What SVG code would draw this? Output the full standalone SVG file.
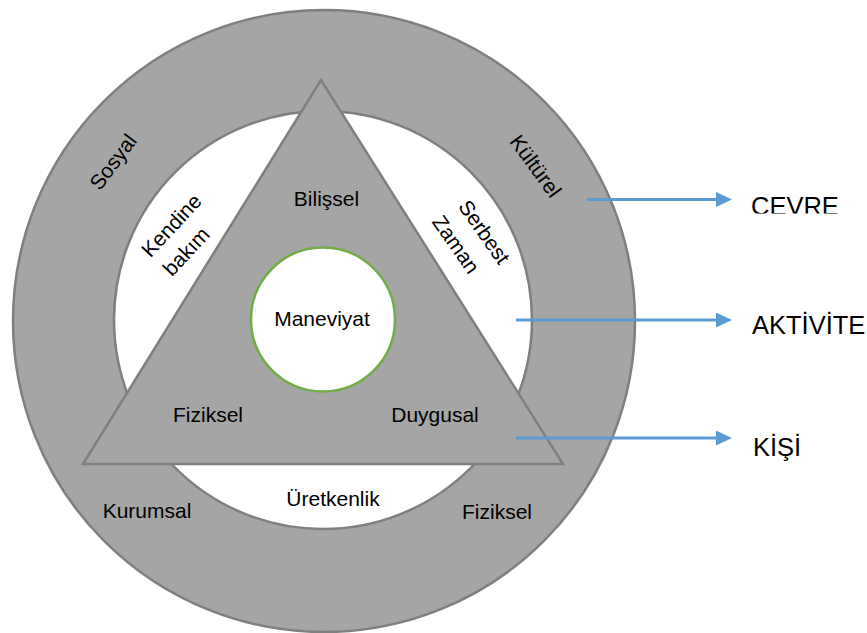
<svg xmlns="http://www.w3.org/2000/svg" width="867" height="633" viewBox="0 0 867 633">
<style>
.shape{fill:#A5A5A5;stroke:#7F7F7F;stroke-width:2.5}
.white{fill:#FFFFFF;stroke:#7F7F7F;stroke-width:2.5}
.core{fill:#FFFFFF;stroke:#70AD47;stroke-width:2.5}
.lbl{font-family:"Liberation Sans",Arial,sans-serif;font-size:21px;fill:#000;text-anchor:middle}
.big{font-family:"Liberation Sans",Arial,sans-serif;font-size:25.5px;fill:#000}
.conn{stroke:#5B9BD5;stroke-width:3;fill:none}
</style>
<defs>
<marker id="ah" viewBox="0 0 16 15" refX="0" refY="7.5" markerWidth="16" markerHeight="15" markerUnits="userSpaceOnUse" orient="auto">
<path d="M0,0 L16,7.5 L0,15 z" fill="#5B9BD5"/>
</marker>
<clipPath id="cevreClip"><rect x="740" y="180" width="127" height="33.5"/></clipPath>
</defs>
<rect width="867" height="633" fill="#FFFFFF"/>
<g id="cevre-ring">
<circle class="shape" cx="324" cy="321" r="311"/>
<text class="lbl" transform="translate(113.7,162.3) rotate(-53)" y="6.5">Sosyal</text>
<text class="lbl" transform="translate(535,166.5) rotate(54)" y="6.5">Kültürel</text>
<text class="lbl" x="147" y="518">Kurumsal</text>
<text class="lbl" x="497" y="519">Fiziksel</text>
</g>
<g id="aktivite-ring">
<circle class="white" cx="323" cy="320" r="209"/>
<text class="lbl" transform="translate(172,226) rotate(-47)" y="6.5">Kendine</text>
<text class="lbl" transform="translate(186.7,252) rotate(-47)" y="6.5">bakım</text>
<text class="lbl" transform="translate(483.7,232.5) rotate(55)" y="6.5">Serbest</text>
<text class="lbl" transform="translate(455.4,244.8) rotate(55)" y="6.5">Zaman</text>
<text class="lbl" x="333" y="506">Üretkenlik</text>
</g>
<g id="kisi-triangle">
<polygon class="shape" points="321,80 83,464 563,464"/>
<text class="lbl" x="326.5" y="205.5">Bilişsel</text>
<text class="lbl" x="208" y="422">Fiziksel</text>
<text class="lbl" x="435" y="422">Duygusal</text>
</g>
<g id="maneviyat">
<circle class="core" cx="323" cy="319.5" r="72"/>
<text class="lbl" x="322" y="326">Maneviyat</text>
</g>
<g id="connectors">
<path class="conn" d="M587,199.5 H716" marker-end="url(#ah)"/>
<path class="conn" d="M516,320 H716" marker-end="url(#ah)"/>
<path class="conn" d="M516,438 H716" marker-end="url(#ah)"/>
</g>
<g id="label-cevre">
<text class="big" x="751" y="215" clip-path="url(#cevreClip)">CEVRE</text>
</g>
<g id="label-aktivite">
<text class="big" x="752" y="334">AKTİVİTE</text>
</g>
<g id="label-kisi">
<text class="big" x="753" y="455.5">KİŞİ</text>
</g>
</svg>
